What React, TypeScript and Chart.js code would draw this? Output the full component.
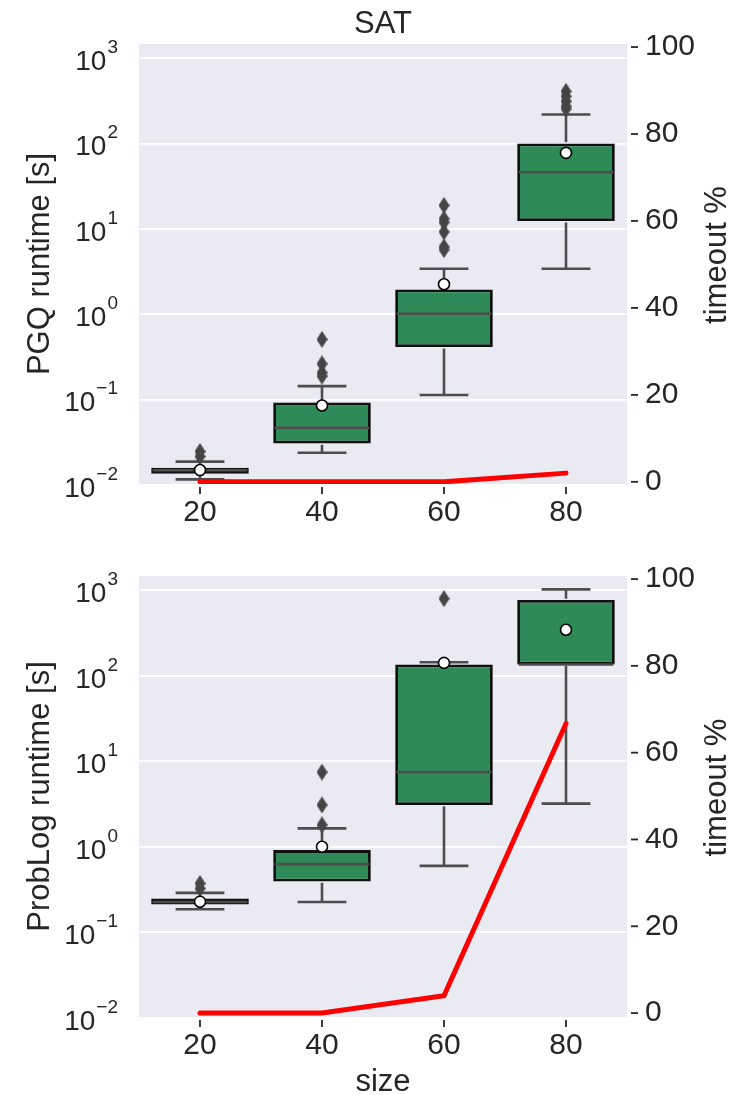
import React, { useEffect, useRef } from 'react';
import { Chart, registerables } from 'chart.js';

Chart.register(...registerables);

// ---------------- data ----------------
const sizes = ['20', '40', '60', '80'];
const logTickExponents = [-2, -1, 0, 1, 2, 3];
const timeoutTicks = [0, 20, 40, 60, 80, 100];

// PGQ runtime [s]
const pgqWhiskerLow = [0.0116, 0.0238, 0.113, 3.4];
const pgqQ1 = [0.0135, 0.0306, 0.411, 12.3];
const pgqMedian = [0.0148, 0.0467, 1.01, 46];
const pgqQ3 = [0.0159, 0.092, 1.95, 99.8];
const pgqWhiskerHigh = [0.0187, 0.1435, 3.4, 218];
const pgqMean = [0.0149, 0.085, 2.24, 77.6];
const pgqOutliers = [
  [0.0246, 0.0215],
  [0.506, 0.262, 0.206, 0.188],
  [18.8, 13.1, 11.9, 9.2, 6.15, 5.7],
  [408, 357, 312, 273, 254],
];
const pgqTimeout = [0, 0, 0, 2];

// ProbLog runtime [s]
const problogWhiskerLow = [0.186, 0.226, 0.598, 3.19];
const problogQ1 = [0.211, 0.393, 3.08, 135];
const problogMedian = [0.226, 0.627, 7.45, 135];
const problogQ3 = [0.248, 0.914, 135, 765];
const problogWhiskerHigh = [0.289, 1.64, 143.6, 1020];
const problogMean = [0.228, 1.0, 141, 344];
const problogOutliers = [[0.372, 0.325], [7.45, 3.08, 1.8], [794], []];
const problogTimeout = [0, 0, 4, 66.7];

// ---------------- style ----------------
const FONT = '"Liberation Sans", Arial, Helvetica, sans-serif';
const TEXT = '#262626';
const BG = '#eaeaf2';
const GREEN = '#2e8a57';
const WHISKER = '#4d4d4d';
const FLIER = '#454545';
const W = 748;
const PLOT_LEFT = 139;
const PLOT_RIGHT = 627;

type Stats = {
  lo: number[]; q1: number[]; med: number[]; q3: number[]; hi: number[]; mean: number[];
  outliers: number[][]; timeout: number[];
};

function makeDiamond(): HTMLCanvasElement {
  const c = document.createElement('canvas');
  c.width = 11;
  c.height = 17;
  const g = c.getContext('2d')!;
  g.fillStyle = FLIER;
  g.beginPath();
  g.moveTo(5.5, 0);
  g.lineTo(11, 8.5);
  g.lineTo(5.5, 17);
  g.lineTo(0, 8.5);
  g.closePath();
  g.fill();
  return c;
}

function makePlugin(s: Stats, title: string | null, yTitle: string, xTitle: string | null) {
  return {
    id: 'panelDecor',
    beforeDraw(chart: any) {
      const { ctx, chartArea: a } = chart;
      ctx.save();
      ctx.fillStyle = BG;
      ctx.fillRect(a.left, a.top, a.right - a.left, a.bottom - a.top);
      ctx.restore();
    },
    afterDatasetDraw(chart: any, args: any) {
      if (args.index !== 0) return;
      const { ctx } = chart;
      const ys = chart.scales.y;
      const meta = chart.getDatasetMeta(0);
      const seg = (x1: number, y1: number, x2: number, y2: number) => {
        ctx.beginPath();
        ctx.moveTo(x1, y1);
        ctx.lineTo(x2, y2);
        ctx.stroke();
      };
      ctx.save();
      ctx.strokeStyle = WHISKER;
      ctx.lineWidth = 2.6;
      sizes.forEach((_, i) => {
        const bar = meta.data[i];
        const x = bar.x;
        const w = bar.width;
        const yq1 = ys.getPixelForValue(s.q1[i]);
        const yq3 = ys.getPixelForValue(s.q3[i]);
        const ylo = ys.getPixelForValue(s.lo[i]);
        const yhi = ys.getPixelForValue(s.hi[i]);
        const ymed = ys.getPixelForValue(s.med[i]);
        seg(x, yq3 - 1.4, x, yhi);
        seg(x - w / 4, yhi, x + w / 4, yhi);
        seg(x, yq1 + 1.4, x, ylo);
        seg(x - w / 4, ylo, x + w / 4, ylo);
        seg(x - w / 2 + 1.5, ymed, x + w / 2 - 1.5, ymed);
      });
      ctx.restore();
    },
    afterDraw(chart: any) {
      const { ctx, chartArea: a } = chart;
      const xs = chart.scales.x;
      const ys = chart.scales.y;
      const y2 = chart.scales.y2;
      ctx.save();
      // tick marks
      ctx.strokeStyle = TEXT;
      ctx.lineWidth = 1.8;
      sizes.forEach((_, i) => {
        const x = xs.getPixelForValue(i);
        ctx.beginPath();
        ctx.moveTo(x, a.bottom + 3);
        ctx.lineTo(x, a.bottom + 10);
        ctx.stroke();
      });
      timeoutTicks.forEach((v) => {
        const y = y2.getPixelForValue(v);
        ctx.beginPath();
        ctx.moveTo(a.right + 4, y);
        ctx.lineTo(a.right + 11, y);
        ctx.stroke();
      });
      // log tick labels 10^k
      ctx.fillStyle = TEXT;
      ctx.textAlign = 'right';
      ctx.textBaseline = 'alphabetic';
      logTickExponents.forEach((e) => {
        const py = ys.getPixelForValue(Math.pow(10, e));
        const exp = e < 0 ? '\u2212' + Math.abs(e) : String(e);
        ctx.font = `19px ${FONT}`;
        const ew = ctx.measureText(exp).width;
        ctx.fillText(exp, 118, py - 5);
        ctx.font = `28px ${FONT}`;
        ctx.fillText('10', 118 - ew - 1, py + 12);
      });
      // axis titles
      const cy = (a.top + a.bottom) / 2;
      ctx.font = `31px ${FONT}`;
      ctx.textAlign = 'center';
      ctx.save();
      ctx.translate(49, cy);
      ctx.rotate(-Math.PI / 2);
      ctx.fillText(yTitle, 0, 0);
      ctx.restore();
      ctx.save();
      ctx.translate(726, cy - 9);
      ctx.rotate(-Math.PI / 2);
      ctx.fillText('timeout %', 0, 0);
      ctx.restore();
      const cx = (a.left + a.right) / 2;
      if (title) ctx.fillText(title, cx, 33);
      if (xTitle) ctx.fillText(xTitle, cx, a.bottom + 74);
      ctx.restore();
    },
  };
}

function buildConfig(s: Stats, height: number, padTop: number, plotBottom: number, y2Min: number, plugin: any) {
  const diamond = makeDiamond();
  const outlierPoints = s.outliers.flatMap((arr, i) => arr.map((v) => ({ x: sizes[i], y: v })));
  return {
    type: 'bar',
    data: {
      labels: sizes,
      datasets: [
        {
          type: 'bar',
          label: 'box',
          data: s.q1.map((v, i) => [v, s.q3[i]]),
          backgroundColor: GREEN,
          borderColor: '#111111',
          borderWidth: 2.8,
          borderSkipped: false,
          barPercentage: 0.8,
          categoryPercentage: 1,
          yAxisID: 'y',
          order: 3,
        },
        {
          type: 'line',
          label: 'outliers',
          data: outlierPoints,
          showLine: false,
          pointStyle: diamond,
          pointRadius: 6,
          yAxisID: 'y',
          order: 2,
        },
        {
          type: 'line',
          label: 'mean',
          data: s.mean,
          showLine: false,
          pointStyle: 'circle',
          pointRadius: 5.5,
          pointBackgroundColor: '#ffffff',
          pointBorderColor: '#000000',
          pointBorderWidth: 1.6,
          yAxisID: 'y',
          order: 1,
        },
        {
          type: 'line',
          label: 'timeout',
          data: s.timeout,
          borderColor: '#ff0000',
          borderWidth: 5,
          borderCapStyle: 'round',
          pointRadius: 0,
          tension: 0,
          yAxisID: 'y2',
          order: 0,
        },
      ],
    },
    options: {
      responsive: false,
      animation: false,
      events: [],
      layout: { padding: { top: padTop, left: 0, right: 0, bottom: 0 } },
      plugins: { legend: { display: false }, tooltip: { enabled: false }, title: { display: false } },
      scales: {
        x: {
          type: 'category',
          offset: true,
          grid: { display: false, drawTicks: false },
          border: { display: false },
          ticks: { font: { family: FONT, size: 30 }, color: TEXT, padding: 11 },
          afterFit: (sc: any) => { sc.height = height - plotBottom; },
        },
        y: {
          type: 'logarithmic',
          position: 'left',
          min: Math.pow(10, -1.99),
          max: Math.pow(10, 3.165),
          bounds: 'data',
          afterBuildTicks: (sc: any) => {
            sc.ticks = logTickExponents.map((e) => ({ value: Math.pow(10, e), major: true }));
          },
          grid: { color: '#ffffff', lineWidth: 1.8, drawTicks: false },
          border: { display: false },
          ticks: { display: false },
          afterFit: (sc: any) => { sc.width = PLOT_LEFT; },
        },
        y2: {
          type: 'linear',
          position: 'right',
          min: y2Min,
          max: 100.7,
          bounds: 'data',
          afterBuildTicks: (sc: any) => {
            sc.ticks = timeoutTicks.map((v) => ({ value: v }));
          },
          grid: { display: false, drawTicks: false },
          border: { display: false },
          ticks: { font: { family: FONT, size: 30 }, color: TEXT, padding: 18 },
          afterFit: (sc: any) => { sc.width = W - PLOT_RIGHT; },
        },
      },
    },
    plugins: [plugin],
  };
}

function Panel(props: {
  top: number; height: number; padTop: number; plotBottom: number; y2Min: number;
  stats: Stats; title: string | null; yTitle: string; xTitle: string | null;
}) {
  const ref = useRef<HTMLCanvasElement>(null);
  useEffect(() => {
    const plugin = makePlugin(props.stats, props.title, props.yTitle, props.xTitle);
    const cfg: any = buildConfig(props.stats, props.height, props.padTop, props.plotBottom, props.y2Min, plugin);
    const chart = new Chart(ref.current as HTMLCanvasElement, cfg);
    return () => chart.destroy();
  }, []);
  return (
    <div style={{ position: 'absolute', left: 0, top: props.top, width: W, height: props.height }}>
      <canvas ref={ref} width={W} height={props.height} style={{ display: 'block', width: W, height: props.height }} />
    </div>
  );
}

const pgqStats: Stats = {
  lo: pgqWhiskerLow, q1: pgqQ1, med: pgqMedian, q3: pgqQ3, hi: pgqWhiskerHigh, mean: pgqMean,
  outliers: pgqOutliers, timeout: pgqTimeout,
};
const problogStats: Stats = {
  lo: problogWhiskerLow, q1: problogQ1, med: problogMedian, q3: problogQ3, hi: problogWhiskerHigh,
  mean: problogMean, outliers: problogOutliers, timeout: problogTimeout,
};

export default function App() {
  return (
    <div style={{ position: 'absolute', left: 0, top: 0, width: W, height: 1095, background: '#ffffff' }}>
      <Panel top={0} height={530} padTop={44} plotBottom={484} y2Min={-0.5}
        stats={pgqStats} title="SAT" yTitle="PGQ runtime [s]" xTitle={null} />
      <Panel top={530} height={565} padTop={46} plotBottom={487} y2Min={-0.9}
        stats={problogStats} title={null} yTitle="ProbLog runtime [s]" xTitle="size" />
    </div>
  );
}
